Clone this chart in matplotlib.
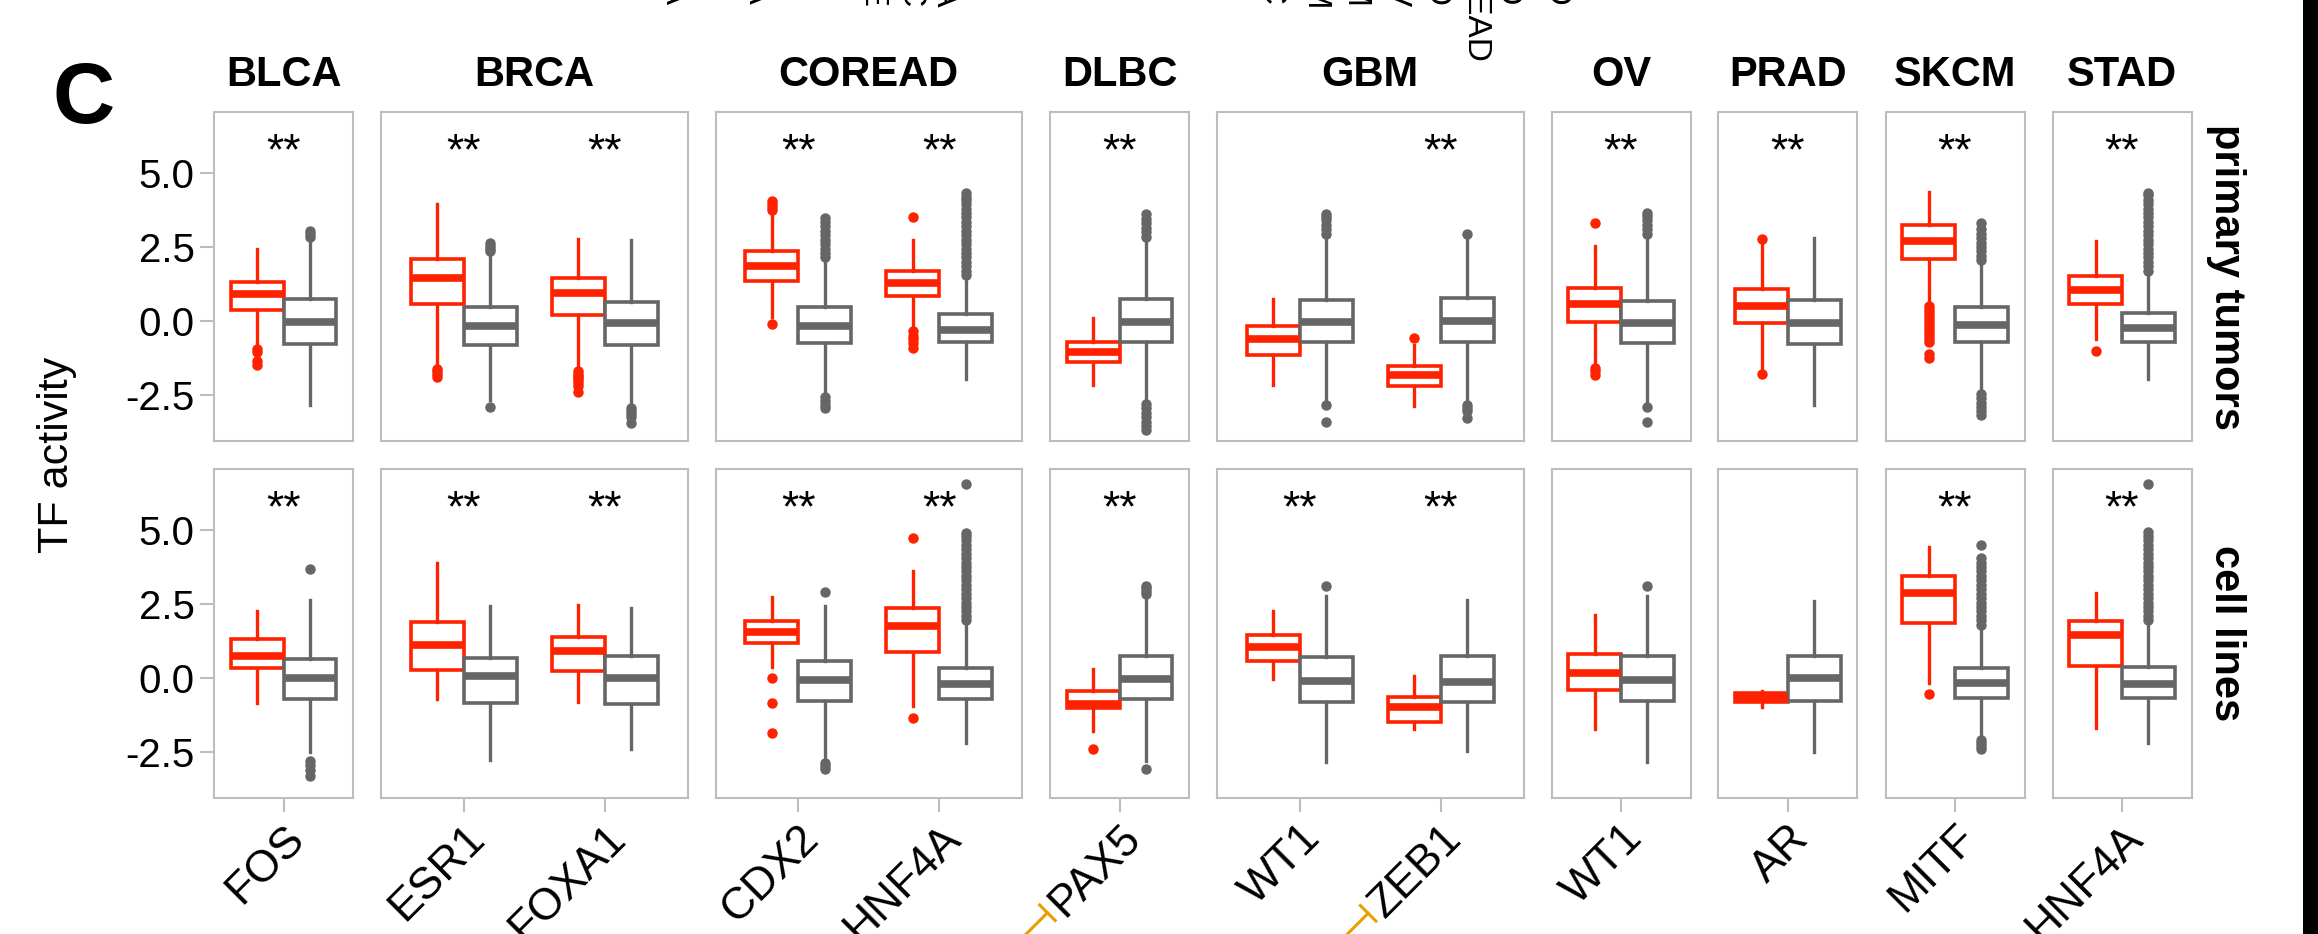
import matplotlib
matplotlib.use("Agg")
import matplotlib.pyplot as plt
from matplotlib.lines import Line2D
from matplotlib.patches import Rectangle
from matplotlib.transforms import IdentityTransform
import numpy as np

plt.rcParams["font.family"] = ["Liberation Sans", "DejaVu Sans"]

# ---------------------------------------------------------
# data
# ---------------------------------------------------------
tissues = ["BLCA", "BRCA", "COREAD", "DLBC", "GBM", "OV", "PRAD", "SKCM", "STAD"]
tissue_genes = [["FOS"], ["ESR1", "FOXA1"], ["CDX2", "HNF4A"], ["PAX5"],
                ["WT1", "ZEB1"], ["WT1"], ["AR"], ["MITF"], ["HNF4A"]]
inhibited = ["PAX5", "ZEB1"]   # genes with the yellow inhibition mark
rows = ["primary tumors", "cell lines"]

# box stats per gene: [whisker low, q1, median, q3, whisker high]
tumor_red_box = [
    [-0.75, 0.39, 0.91, 1.32, 2.45], [-1.55, 0.57, 1.44, 2.10, 3.95],
    [-1.65, 0.19, 0.96, 1.46, 2.76], [0.15, 1.35, 1.87, 2.38, 3.64],
    [-0.25, 0.84, 1.30, 1.70, 2.74], [-2.16, -1.37, -1.05, -0.70, 0.09],
    [-2.16, -1.15, -0.59, -0.16, 0.74], [-2.87, -2.20, -1.82, -1.52, -0.81],
    [-1.49, -0.02, 0.56, 1.13, 2.55], [-1.70, -0.08, 0.51, 1.09, 2.65],
    [0.60, 2.11, 2.71, 3.23, 4.37], [-0.59, 0.57, 1.05, 1.53, 2.71],
]
tumor_red_out = [
    [-0.95, -1.05, -1.35, -1.50], [-1.62, -1.70, -1.78, -1.88],
    [-1.70, -1.78, -1.85, -1.92, -2.00, -2.10, -2.20, -2.40],
    [3.75, 3.85, 3.95, 4.05, -0.10], [3.52, -0.35, -0.50, -0.62, -0.75, -0.90],
    [], [], [-0.56], [3.32, -1.60, -1.70, -1.82], [2.76, -1.79],
    [0.50, 0.40, 0.30, 0.20, 0.10, 0.00, -0.10, -0.20, -0.30, -0.40, -0.50,
     -0.60, -0.70, -1.10, -1.25],
    [-1.00],
]
tumor_grey_box = [
    [-2.82, -0.79, -0.02, 0.73, 2.68], [-2.67, -0.81, -0.17, 0.48, 2.25],
    [-2.90, -0.82, -0.08, 0.64, 2.74], [-2.44, -0.75, -0.17, 0.46, 2.06],
    [-1.94, -0.72, -0.30, 0.23, 1.44], [-2.67, -0.70, -0.02, 0.73, 2.74],
    [-2.67, -0.72, -0.02, 0.71, 2.85], [-2.78, -0.70, 0.00, 0.77, 2.85],
    [-2.84, -0.75, -0.06, 0.68, 2.85], [-2.82, -0.79, -0.05, 0.71, 2.79],
    [-2.33, -0.70, -0.14, 0.46, 1.95], [-1.94, -0.70, -0.25, 0.28, 1.61],
]
tumor_grey_out = [
    [2.85, 2.95, 3.05], [2.35, 2.45, 2.55, 2.62, -2.89],
    [-2.95, -3.05, -3.15, -3.25, -3.45],
    [2.15, 2.30, 2.45, 2.60, 2.75, 2.90, 3.05, 3.20, 3.35, 3.47,
     -2.55, -2.70, -2.85, -2.95],
    [1.55, 1.70, 1.85, 2.00, 2.15, 2.30, 2.45, 2.60, 2.75, 2.90, 3.05, 3.20,
     3.35, 3.50, 3.65, 3.80, 3.95, 4.10, 4.20, 4.31],
    [2.85, 3.00, 3.15, 3.30, 3.45, 3.60, -2.80, -2.95, -3.10, -3.25, -3.40,
     -3.55, -3.68],
    [2.95, 3.10, 3.25, 3.40, 3.50, 3.60, -2.84, -3.40],
    [2.93, -2.84, -2.95, -3.05, -3.29],
    [2.95, 3.10, 3.25, 3.40, 3.55, 3.64, -2.90, -3.40],
    [],
    [2.05, 2.20, 2.35, 2.50, 2.65, 2.80, 2.95, 3.10, 3.30,
     -2.45, -2.60, -2.75, -2.90, -3.05, -3.18],
    [1.70, 1.85, 2.00, 2.15, 2.30, 2.45, 2.60, 2.75, 2.90, 3.05, 3.20, 3.35,
     3.50, 3.65, 3.80, 3.95, 4.10, 4.25, 4.34],
]
cell_red_box = [
    [-0.85, 0.33, 0.74, 1.32, 2.26], [-0.72, 0.28, 1.11, 1.90, 3.88],
    [-0.81, 0.24, 0.93, 1.38, 2.46], [0.38, 1.17, 1.56, 1.92, 2.73],
    [-0.94, 0.89, 1.75, 2.35, 3.60], [-1.78, -1.02, -0.87, -0.42, 0.29],
    [-0.04, 0.59, 1.05, 1.47, 2.26], [-1.73, -1.48, -0.97, -0.63, 0.07],
    [-1.73, -0.40, 0.18, 0.80, 2.12], [-0.98, -0.80, -0.68, -0.52, -0.42],
    [-0.16, 1.86, 2.87, 3.43, 4.41], [-1.69, 0.40, 1.45, 1.92, 2.87],
]
cell_red_out = [
    [], [], [], [0.01, -0.83, -1.84], [4.72, -1.34], [-2.40],
    [], [], [], [], [-0.53], [],
]
cell_grey_box = [
    [-2.51, -0.70, -0.01, 0.66, 2.62], [-2.76, -0.83, 0.06, 0.68, 2.45],
    [-2.40, -0.86, -0.01, 0.74, 2.37], [-2.79, -0.77, -0.08, 0.59, 2.45],
    [-2.18, -0.70, -0.21, 0.35, 1.81], [-2.79, -0.72, -0.02, 0.74, 2.76],
    [-2.82, -0.81, -0.10, 0.71, 2.76], [-2.46, -0.80, -0.13, 0.74, 2.65],
    [-2.82, -0.77, -0.08, 0.76, 2.76], [-2.51, -0.77, -0.01, 0.74, 2.59],
    [-2.00, -0.66, -0.16, 0.35, 1.69], [-2.18, -0.68, -0.19, 0.37, 1.86],
]
cell_grey_out = [
    [3.68, -2.80, -2.95, -3.10, -3.30], [], [],
    [2.90, -2.88, -2.98, -3.08],
    [1.95, 2.10, 2.25, 2.40, 2.55, 2.70, 2.85, 3.00, 3.15, 3.30, 3.45, 3.60,
     3.75, 3.90, 4.05, 4.20, 4.35, 4.50, 4.65, 4.80, 4.89, 6.54],
    [2.85, 2.95, 3.05, 3.10, -3.08],
    [3.10], [], [3.10], [],
    [1.80, 1.95, 2.10, 2.25, 2.40, 2.55, 2.70, 2.85, 3.00, 3.15, 3.30, 3.45,
     3.60, 3.75, 3.90, 4.05, 4.48, -2.10, -2.20, -2.30, -2.40],
    [1.95, 2.10, 2.25, 2.40, 2.55, 2.70, 2.85, 3.00, 3.15, 3.30, 3.45, 3.60,
     3.75, 3.90, 4.05, 4.20, 4.35, 4.50, 4.65, 4.80, 4.93, 6.54],
]
tumor_sig = ["**", "**", "**", "**", "**", "**", "", "**", "**", "**", "**", "**"]
cell_sig = ["**", "**", "**", "**", "**", "**", "**", "**", "", "", "**", "**"]

yticks = [-2.5, 0.0, 2.5, 5.0]

row_data = [
    (tumor_red_box, tumor_red_out, tumor_grey_box, tumor_grey_out, tumor_sig),
    (cell_red_box, cell_red_out, cell_grey_box, cell_grey_out, cell_sig),
]

# ---------------------------------------------------------
# style / layout
# ---------------------------------------------------------
RED = "#FF2200"
GREY = "#666666"
FRAME = "#BDBDBD"
W, H = 2318, 934
BOX_W = 0.375
PX_PER_UNIT = 141.0
panel_w = {1: 139.0, 2: 306.5}
gap = 28.0
left0 = 214.0
row_top = [112.0, 469.0]
row_h = 329.0

fig = plt.figure(figsize=(W / 100, H / 100), dpi=100)


def draw_box(ax, pos, stat, fliers, color):
    s = dict(whislo=stat[0], q1=stat[1], med=stat[2], q3=stat[3],
             whishi=stat[4], fliers=fliers)
    ax.bxp([s], positions=[pos], widths=BOX_W, patch_artist=True,
           showcaps=False, manage_ticks=False,
           boxprops=dict(facecolor="white", edgecolor=color, linewidth=2.6),
           medianprops=dict(color=color, linewidth=5.5, solid_capstyle="butt"),
           whiskerprops=dict(color=color, linewidth=2.4),
           flierprops=dict(marker="o", markerfacecolor=color,
                           markeredgecolor=color, markersize=6.5,
                           linestyle="none"))


mark_labels = []
for r in range(2):
    red_box, red_out, grey_box, grey_out, sig = row_data[r]
    x = left0
    k = 0
    for t, (tissue, genes) in enumerate(zip(tissues, tissue_genes)):
        n = len(genes)
        w = panel_w[n]
        ax = fig.add_axes([x / W, 1 - (row_top[r] + row_h) / H, w / W, row_h / H])
        x += w + gap
        pos = np.arange(1, n + 1)
        for j in range(n):
            draw_box(ax, pos[j] - BOX_W / 2, red_box[k + j], red_out[k + j], RED)
            draw_box(ax, pos[j] + BOX_W / 2, grey_box[k + j], grey_out[k + j], GREY)
            if sig[k + j]:
                ax.text(pos[j], 5.3, sig[k + j], ha="center", va="baseline",
                        fontsize=32, color="black")
        half = w / 2 / PX_PER_UNIT
        ax.set_xlim((n + 1) / 2 - half, (n + 1) / 2 + half)
        ax.set_ylim(-4.05, 7.06)
        for sp in ax.spines.values():
            sp.set_color(FRAME)
            sp.set_linewidth(1.5)
        ax.tick_params(axis="both", color=FRAME, length=10, width=1.5, pad=4)
        if t == 0:
            ax.set_yticks(yticks)
            ax.set_yticklabels([f"{v:.1f}" for v in yticks], fontsize=29)
        else:
            ax.set_yticks([])
        if r == 0:
            ax.set_xticks([])
            ax.set_title(tissue, fontsize=30, fontweight="bold", pad=19)
        else:
            ax.set_xticks(pos)
            labs = ax.set_xticklabels(genes, rotation=45, ha="right", va="top",
                                      rotation_mode="anchor", fontsize=32)
            for lab in labs:
                if lab.get_text() in inhibited:
                    mark_labels.append(lab)
        k += n

# panel letter, axis title, row strips
fig.text(52 / W, 1 - 123 / H, "C", fontsize=62, fontweight="bold",
         ha="left", va="baseline")
fig.text(57 / W, 1 - 455 / H, "TF activity", fontsize=31, rotation=90,
         ha="center", va="center")
for r, lab in enumerate(rows):
    fig.text(2226 / W, 1 - (row_top[r] + row_h / 2) / H, lab, fontsize=30,
             fontweight="bold", rotation=270, ha="center", va="center")

# cropped labels of the panel above
frags = [(672, 7, "BLCA"), (755, 7, "BRCA"), (872, 8, "CCLE"),
         (910, 8, "GDSC"), (945, 8, "TCGA"), (1270, 7, "DLBC"),
         (1315, 11, "SKCM"), (1355, 8, "GBM"), (1395, 8, "OV"),
         (1435, 8, "LUAD"), (1475, 63, "COREAD"), (1507, 7, "STAD"),
         (1555, 8, "PRAD")]
for fx, fy, s in frags:
    fig.text(fx / W, 1 - fy / H, s, fontsize=24, rotation=270,
             ha="center", va="bottom")

# black edge on the right
fig.add_artist(Rectangle((2303 / W, 0), 15 / W, 1, transform=fig.transFigure,
                         facecolor="black", edgecolor="none"))

# inhibition marks in front of some gene labels
fig.canvas.draw()
renderer = fig.canvas.get_renderer()
u = np.array([np.cos(np.pi / 4), np.sin(np.pi / 4)])
nvec = np.array([-np.sin(np.pi / 4), np.cos(np.pi / 4)])
for lab in mark_labels:
    prop = lab.get_fontproperties()
    tw, th, td = renderer.get_text_width_height_descent(lab.get_text(), prop, False)
    lw_, lh, ld = renderer.get_text_width_height_descent("lp", prop, False)
    anchor = np.array(lab.get_transform().transform(lab.get_position()))
    start = anchor - tw * u - (lh - ld) * nvec
    centre = start - 8 * u + 0.35 * prop.get_size_in_points() * 100 / 72 * nvec
    b1 = centre + 11 * nvec
    b2 = centre - 11 * nvec
    tail = centre - 60 * u
    for xs, ys in [([b1[0], b2[0]], [b1[1], b2[1]]),
                   ([centre[0], tail[0]], [centre[1], tail[1]])]:
        fig.add_artist(Line2D(xs, ys, transform=IdentityTransform(),
                              color="#E8A000", linewidth=2.2))

fig.savefig("out.png", dpi=100)
